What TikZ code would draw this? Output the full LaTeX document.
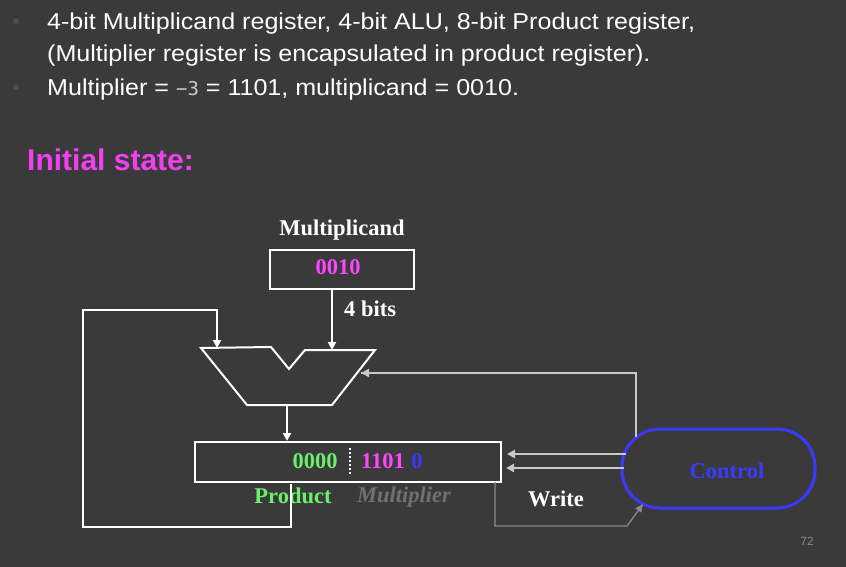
\documentclass[tikz,border=0pt]{standalone}
\usepackage{fontspec}
\setmainfont{Liberation Serif}
\newfontfamily\arialn[FakeStretch=1.09]{Liberation Sans}
\newfontfamily\arial{Liberation Sans}
\newfontfamily\monof{DejaVu Sans Mono}
\usetikzlibrary{arrows.meta}
\definecolor{bg}{HTML}{3A3A3A}
\definecolor{mag}{HTML}{FF44FF}
\definecolor{title}{HTML}{F040F0}
\definecolor{grn}{HTML}{6CF06C}
\definecolor{blu}{HTML}{3A3AFF}
\definecolor{lgray}{HTML}{C8C8C8}
\definecolor{dgray}{HTML}{8A8A8A}
\definecolor{mgray}{HTML}{707070}
\definecolor{bgray}{HTML}{4C4C4C}
\tikzset{
  wline/.style={draw=white,line width=2pt},
  warrow/.style={draw=white,line width=2pt,-{Triangle[length=8pt,width=8pt]}},
  garrow/.style={draw=lgray,line width=2pt,-{Triangle[length=8pt,width=8pt]}},
  bul/.style={text=white,anchor=base west,inner sep=0pt,font=\arialn\fontsize{23}{26}\selectfont},
  lbl/.style={inner sep=0pt,font=\bfseries\fontsize{22.5}{26}\selectfont},
  dot/.style={fill=bgray,circle,inner sep=0pt,minimum size=6pt}
}
\begin{document}
\begin{tikzpicture}[x=1pt,y=-1pt]
\fill[bg] (0,0) rectangle (846,567);
\useasboundingbox (0,0) rectangle (846,567);
% bullets
\node[dot] (b1) at (16,21) {};
\node[dot] (b2) at (16,87) {};
\node[bul] (t1) at (47,30) {4-bit Multiplicand register, 4-bit ALU, 8-bit Product register,};
\node[bul] (t2) at (47,62) {(Multiplier register is encapsulated in product register).};
\node[bul] (t3) at (47,96) {Multiplier = {\monof\color{lgray}\fontsize{19}{22}\selectfont −3} = 1101, multiplicand = 0010.};
\node[text=title,anchor=base west,inner sep=0pt,font=\arial\bfseries\fontsize{30}{33}\selectfont] (init) at (27,171) {Initial state:};
% multiplicand
\node[lbl,text=white] (mcl) at (342,230) {Multiplicand};
\node[draw=white,line width=2pt,minimum width=144pt,minimum height=39pt,inner sep=0pt] (mc) at (342,269.5) {};
\node[lbl,text=mag] (mcv) at (338,267) {0010};
\node[lbl,text=white,anchor=west] (fb) at (344,309) {4 bits};
% ALU
\coordinate (a1) at (201,348);
\coordinate (a2) at (271,347);
\coordinate (a3) at (289,369);
\coordinate (a4) at (305,350);
\coordinate (a5) at (375,350);
\coordinate (a6) at (332,405);
\coordinate (a7) at (247,405);
\draw[wline,line join=miter] (a1) -- (a2) -- (a3) -- (a4) -- (a5) -- (a6) -- (a7) -- cycle;
\coordinate (ainL) at (217,348);
\coordinate (ainR) at (332,350);
\coordinate (aout) at (287,405);
\coordinate (ainS) at (361,373);
\draw[warrow] (mc.south -| ainR) -- (ainR);
% product register
\node[draw=white,line width=2pt,minimum width=306pt,minimum height=40pt,inner sep=0pt] (pr) at (348,462) {};
\draw[warrow] (aout) -- (aout |- pr.north);
\node[lbl,text=grn] (p0) at (315,461) {0000};
\draw[white,line width=2pt,dash pattern=on 2pt off 2pt] (350,448) -- (350,476);
\node[lbl,text=mag] (p1) at (383,461) {1101};
\node[lbl,text=blu] (p2) at (417,461) {0};
\node[lbl,text=grn] (pl) at (293,496) {Product};
\node[lbl,text=mgray,font=\bfseries\itshape\fontsize{22.5}{26}\selectfont] (ml) at (404,497) {Multiplier};
% loop back
\coordinate (l1) at (291,484);
\draw[wline] (l1) -- (291,527) -- (83,527) -- (83,310) -- (ainL |- 0,310);
\draw[warrow] (ainL |- 0,309) -- (ainL);
% control
\node[draw=blu,line width=3pt,rounded corners=38pt,minimum width=193pt,minimum height=79pt,inner sep=0pt] (ctl) at (718.5,468.5) {};
\node[lbl,text=blu] (ctlt) at (727,471) {Control};
\draw[garrow] (626,454) -- (507,454);
\draw[garrow] (624,468) -- (506,468);
\draw[draw=lgray,line width=2pt] (636,437) -- (636,373) -- (ainS);
\draw[garrow] (370,373) -- (ainS);
% write
\draw[draw=dgray,line width=1.3pt,-{Triangle[length=8pt,width=7pt]}] (495,482) -- (495,526) -- (627,526) -- (643,504);
\node[lbl,text=white] (wr) at (556,499) {Write};
\node[text=dgray,inner sep=0pt,font=\arial\fontsize{12}{14}\selectfont] (pn) at (807,541) {72};
\end{tikzpicture}
\end{document}
